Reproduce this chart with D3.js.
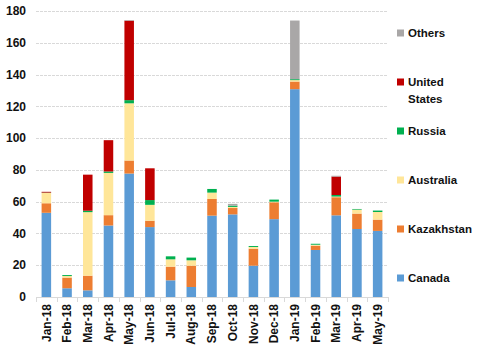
<!DOCTYPE html>
<html><head><meta charset="utf-8">
<script src="https://cdn.jsdelivr.net/npm/d3@7"></script>
<style>body{margin:0;background:#fff}svg{display:block;font-family:"Liberation Sans",Arial,sans-serif}</style>
</head><body><svg id="c" width="480" height="360"></svg>
<script>
const months = ["Jan-18","Feb-18","Mar-18","Apr-18","May-18","Jun-18","Jul-18","Aug-18","Sep-18","Oct-18","Nov-18","Dec-18","Jan-19","Feb-19","Mar-19","Apr-19","May-19"];
const canada     = [53, 5.5, 4.2, 45, 77.7, 44, 10.5, 6.3, 51.2, 52, 19.7, 49, 130.8, 29.6, 51.4, 42.8, 41.6];
const kazakhstan = [6, 6.7, 9.2, 6.5, 8.2, 4, 8.6, 13.4, 10.5, 4, 10.7, 10.6, 4.8, 2.7, 11.4, 9.7, 7.1];
const australia  = [6.5, 1, 40, 26.6, 36, 10, 4.6, 3.4, 4, 0.7, 1.1, 0.4, 0.9, 0.6, 0.4, 2.5, 4.8];
const russia     = [0.2, 0.6, 0.9, 0.9, 2, 3, 1.9, 1.7, 2.3, 0.8, 0.6, 1.3, 0.6, 0.6, 1, 0.4, 0.9];
const unitedStates = [0.5, 0, 22.7, 19.7, 50, 20, 0, 0, 0, 0, 0, 0, 0, 0, 11.6, 0, 0];
const others     = [0, 0, 0, 0, 0.4, 0, 0, 0, 0, 1.1, 0, 0, 36.9, 0, 0.5, 0, 0];
const yTicks = [0,20,40,60,80,100,120,140,160,180];

const seriesNames = ["Canada","Kazakhstan","Australia","Russia","United States","Others"];
const seriesData = [canada, kazakhstan, australia, russia, unitedStates, others];
const colors = ["#5B9BD5","#ED7D31","#FFE699","#00B050","#C00000","#A9A7A7"];

const rows = months.map((m,i)=>{const r={month:m}; seriesNames.forEach((s,j)=>r[s]=seriesData[j][i]); return r;});
const stack = d3.stack().keys(seriesNames)(rows);

const svg = d3.select("#c");
const L=36, R=388, T=11, B=297;
const x = d3.scaleBand().domain(months).range([L,R]).paddingInner(0.54).paddingOuter(0.27);
const y = d3.scaleLinear().domain([0,180]).range([B,T]);

// gridlines
svg.append("g").selectAll("line").data(yTicks.filter(d=>d>0)).join("line")
  .attr("x1",L).attr("x2",R).attr("y1",d=>Math.round(y(d))+0.5).attr("y2",d=>Math.round(y(d))+0.5)
  .attr("stroke","#D9D9D9").attr("stroke-dasharray","3,1");

// bars
svg.append("g").selectAll("g").data(stack).join("g").attr("fill",(d,i)=>colors[i])
  .selectAll("rect").data(d=>d).join("rect")
  .attr("x",d=>x(d.data.month)).attr("width",x.bandwidth())
  .attr("y",d=>y(d[1])).attr("height",d=>Math.max(0,y(d[0])-y(d[1])));

// y axis labels
svg.append("g").selectAll("text").data(yTicks).join("text")
  .attr("x",26).attr("y",d=>y(d)).attr("dy","0.35em").attr("text-anchor","end")
  .attr("font-size",12).attr("font-weight","bold").attr("fill","#111").text(d=>d);

// x axis line and ticks
const step = x.step();
svg.append("line").attr("x1",L).attr("x2",R).attr("y1",B+0.5).attr("y2",B+0.5).attr("stroke","#D9D9D9");
svg.append("g").selectAll("line").data(d3.range(months.length+1)).join("line")
  .attr("x1",i=>Math.round(L+i*step)+0.5).attr("x2",i=>Math.round(L+i*step)+0.5)
  .attr("y1",B).attr("y2",B+5).attr("stroke","#D9D9D9");

// x labels
svg.append("g").selectAll("text").data(months).join("text")
  .attr("transform",d=>`translate(${x(d)+x.bandwidth()/2},${B+7}) rotate(-90)`)
  .attr("text-anchor","end").attr("dy","0.35em")
  .attr("font-size",12).attr("font-weight","bold").attr("fill","#111").text(d=>d);

// legend
const legendY = {"Others":33,"United States":82,"Russia":131,"Australia":180,"Kazakhstan":229,"Canada":278};
const lg = svg.append("g");
seriesNames.forEach((s,i)=>{
  const cy = legendY[s];
  lg.append("rect").attr("x",397).attr("y",cy-3.5).attr("width",7).attr("height",7).attr("fill",colors[i]);
  const t = lg.append("text").attr("x",408).attr("y",cy).attr("dy","0.35em")
    .attr("font-size",11.5).attr("font-weight","bold").attr("fill","#111");
  if(s==="United States"){
    t.append("tspan").attr("x",408).text("United");
    t.append("tspan").attr("x",408).attr("dy","16.5").text("States");
  } else t.text(s);
});
</script></body></html>
